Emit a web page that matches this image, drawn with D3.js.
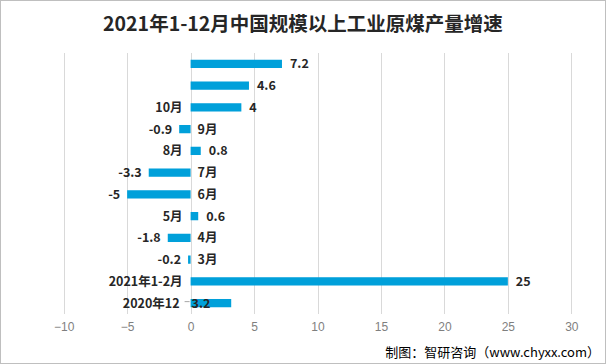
<!DOCTYPE html>
<html><head><meta charset="utf-8">
<script src="https://cdn.jsdelivr.net/npm/d3@7"></script>
<style>
html,body{margin:0;padding:0;background:#fff;}
svg{display:block;}
</style></head>
<body>
<svg id="chart" width="606" height="364"></svg>
<script>
const title = "2021年1-12月中国规模以上工业原煤产量增速";
const categories = ["12月","11月","10月","9月","8月","7月","6月","5月","4月","3月","2021年1-2月","2020年12"];
const showCategory = [false,false,true,true,true,true,true,true,true,true,true,true];
const values = [7.2,4.6,4,-0.9,0.8,-3.3,-5,0.6,-1.8,-0.2,25,3.2];
const xTicks = [-10,-5,0,5,10,15,20,25,30];
const source = "制图：智研咨询（www.chyxx.com）";

const svg = d3.select("#chart");
const W = 606, H = 364;
svg.append("rect").attr("x",0.5).attr("y",0.5).attr("width",W-1).attr("height",H-1)
  .attr("fill","#fff").attr("stroke","#bfbfbf");

const x = d3.scaleLinear().domain([-10,30]).range([63.7,571.3]);
const y = d3.scaleBand().domain(categories).range([53,314]).paddingInner(0.62).paddingOuter(0.31);

const font = "'Noto Sans CJK SC','Noto Sans',sans-serif";
const rows = categories.map((c,i)=>({cat:c, v:values[i], show:showCategory[i], i}));
const last = categories.length-1;
const cy = r => y(r.cat) + y.bandwidth()/2;

// gridlines
svg.append("g").selectAll("line").data(xTicks).join("line")
  .attr("x1",d=>Math.round(x(d))+0.5).attr("x2",d=>Math.round(x(d))+0.5)
  .attr("y1",53).attr("y2",314)
  .attr("stroke","#d9d9d9").attr("stroke-width",1);

// axis tick labels
const axis = d3.axisBottom(x).tickValues(xTicks).tickSize(0).tickPadding(0);
const gAxis = svg.append("g").attr("transform","translate(0,322)").call(axis);
gAxis.select(".domain").remove();
gAxis.selectAll("text").attr("fill","#7f7f7f").attr("font-size",12)
  .attr("font-family","'Liberation Sans',Arial,sans-serif").attr("dy","0.71em");

// bars
svg.append("g").selectAll("rect").data(rows).join("rect")
  .attr("x",r=>x(Math.min(0,r.v)))
  .attr("width",r=>Math.abs(x(r.v)-x(0)))
  .attr("y",r=>y(r.cat))
  .attr("height",y.bandwidth())
  .attr("fill","#00a0da");

// category labels
svg.append("g").selectAll("text").data(rows.filter(r=>r.show)).join("text")
  .attr("x",r=> r.i===last ? x(0)-11 : (r.v >= 0 ? x(0)-8 : x(0)+7))
  .attr("y",cy)
  .attr("dy","0.35em")
  .attr("text-anchor",r=> r.v >= 0 ? "end" : "start")
  .attr("font-family",font).attr("font-weight","bold").attr("font-size",12.5)
  .attr("fill","#262626")
  .text(r=>r.cat);

// leader dash for last category
svg.append("line").attr("x1",x(0)-6).attr("x2",x(0)-1)
  .attr("y1",cy(rows[last])-1.5).attr("y2",cy(rows[last])-1.5).attr("stroke","#a6a6a6");

// value labels
svg.append("g").selectAll("text").data(rows).join("text")
  .attr("x",r=> r.i===last ? x(0)+1 : (r.v >= 0 ? x(r.v)+8 : x(r.v)-7))
  .attr("y",cy)
  .attr("dy","0.35em")
  .attr("text-anchor",r=> (r.v >= 0 || r.i===last) ? "start" : "end")
  .attr("font-family",font).attr("font-weight","bold").attr("font-size",12.5)
  .attr("fill","#262626")
  .text(r=>r.v);

// title
svg.append("text").attr("x",303).attr("y",24).attr("text-anchor","middle").attr("dy","0.35em")
  .attr("font-family","'Noto Sans CJK SC',sans-serif").attr("font-weight","bold")
  .attr("font-size",19.5).attr("fill","#262626").text(title);

// source
svg.append("text").attr("x",600).attr("y",352).attr("text-anchor","end").attr("dy","0.35em")
  .attr("font-family","'Noto Sans CJK SC',sans-serif").attr("font-size",13)
  .attr("fill","#000").text(source);
</script>
</body></html>
